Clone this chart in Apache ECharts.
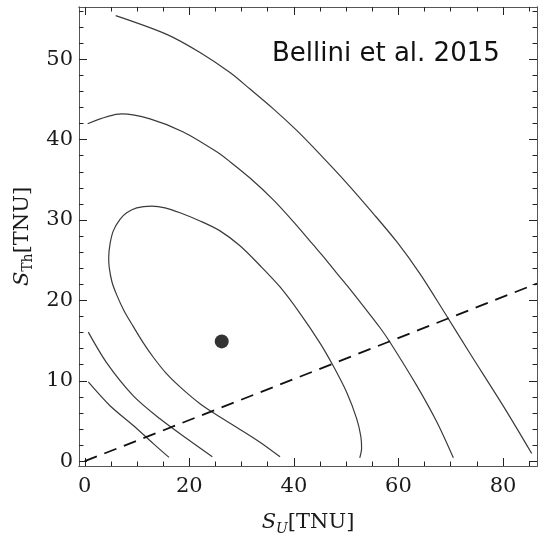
<!DOCTYPE html>
<html>
<head>
<meta charset="utf-8">
<script src="https://cdn.jsdelivr.net/npm/echarts@6/dist/echarts.min.js"></script>
<style>
  html, body { margin: 0; padding: 0; background: #fff; }
  #chart { width: 538px; height: 541px; }
</style>
</head>
<body>
<div id="chart"></div>
<script>
// ---- tick labels ----
const xMajorTicks = [0, 20, 40, 60, 80];
const xMinorTicks = [5, 10, 15, 25, 30, 35, 45, 50, 55, 65, 70, 75, 85];
const yMajorTicks = [0, 10, 20, 30, 40, 50];
const yMinorTicks = [2, 4, 6, 8, 12, 14, 16, 18, 22, 24, 26, 28, 32, 34, 36, 38, 42, 44, 46, 48, 52, 54, 56];

// ---- data: [S_U, S_Th] in TNU ----
const bestFit = [[26.2, 14.9]];

const contour1Sigma = [
  [37.35, 0.54], [33.52, 2.35], [29.69, 3.95], [25.87, 5.49], [22.04, 7.15],
  [18.22, 9.24], [15.54, 10.96], [13.11, 12.93], [11.14, 14.78], [9.29, 16.74],
  [7.51, 18.72], [6.11, 20.69], [5.21, 22.29], [4.68, 24.1], [4.58, 25.3],
  [4.83, 27.0], [5.46, 28.65], [6.74, 30.08], [8.02, 30.9], [9.94, 31.52],
  [12.81, 31.73], [15.35, 31.52], [18.22, 30.9], [22.05, 29.88], [25.87, 28.65],
  [29.69, 26.8], [33.52, 24.34], [37.35, 21.67], [41.17, 18.39], [45.0, 14.69],
  [47.54, 11.83], [50.11, 8.54], [52.02, 5.27], [52.8, 3.1], [52.95, 1.6],
  [52.6, 0.42]
];

const contour2SigmaUpper = [
  [0.56, 41.98], [7.07, 43.21], [12.48, 42.59], [18.85, 40.96], [25.24, 38.49],
  [27.78, 37.26], [31.61, 35.22], [36.07, 32.5], [39.89, 29.8], [43.72, 26.9],
  [45.63, 25.45], [48.19, 23.4], [50.11, 21.9], [53.28, 19.3], [56.48, 16.6],
  [58.39, 14.8], [63.5, 9.4], [67.32, 4.9], [70.5, 0.42]
];
const contour2SigmaLower = [
  [0.68, 16.05], [4.2, 12.23], [9.29, 8.13], [14.39, 5.27], [19.5, 2.81], [24.4, 0.54]
];

const contour3SigmaUpper = [
  [5.92, 55.43], [15.68, 53.1], [22.05, 50.84], [27.78, 48.34], [31.61, 46.29],
  [36.07, 43.83], [40.54, 41.15], [44.37, 38.6], [50.11, 34.6], [55.19, 30.8],
  [59.67, 27.3], [64.13, 23.3], [68.9, 18.4], [73.69, 13.4], [80.06, 6.85],
  [85.49, 0.96]
];
const contour3SigmaLower = [
  [0.68, 9.86], [4.83, 6.9], [9.29, 4.44], [13.11, 2.19], [16.12, 0.47]
];

const ratioLine = [[0, 0], [86.5, 22.1]];

// ---- chart ----
const SERIF = '"DejaVu Serif", "Liberation Serif", serif';
const frameColor = '#555';
const tickColor = '#222';
const X_MIN = -1.1, X_MAX = 86.5, Y_MIN = -0.6, Y_MAX = 56.5;

function makeAxis(dim, position, ticks, len, withLabel, extra) {
  const a = {
    type: 'value',
    position: position,
    min: dim === 'x' ? X_MIN : Y_MIN,
    max: dim === 'x' ? X_MAX : Y_MAX,
    axisLine: { show: true, onZero: false, lineStyle: { color: frameColor, width: 1 } },
    axisTick: { show: true, inside: true, length: len, customValues: ticks,
                lineStyle: { color: tickColor, width: 1 } },
    axisLabel: { show: withLabel, customValues: ticks, color: '#1a1a1a',
                 fontFamily: SERIF, fontSize: 21, margin: dim === 'x' ? 10 : 6 },
    splitLine: { show: false },
    minorTick: { show: false },
    silent: true
  };
  return Object.assign(a, extra || {});
}

const nameRich = {
  s: { fontFamily: SERIF, fontSize: 21, fontStyle: 'italic', color: '#1a1a1a', lineHeight: 26 },
  subi: { fontFamily: SERIF, fontSize: 14, fontStyle: 'italic', color: '#1a1a1a', lineHeight: 15, verticalAlign: 'bottom' },
  sub: { fontFamily: SERIF, fontSize: 14, color: '#1a1a1a', lineHeight: 15, verticalAlign: 'bottom' },
  n: { fontFamily: SERIF, fontSize: 21, color: '#1a1a1a', lineHeight: 26 }
};

const lineStyle = { color: '#3a3a3a', width: 1.2 };
function curve(data) {
  return {
    type: 'line', data: data, smooth: 0.3, showSymbol: false, symbol: 'none',
    lineStyle: lineStyle, silent: true, clip: true, z: 2
  };
}

const chart = echarts.init(document.getElementById('chart'), null, { renderer: 'canvas' });
chart.setOption({
  animation: false,
  backgroundColor: '#ffffff',
  grid: { left: 79, right: 1, top: 7, bottom: 70, containLabel: false },
  xAxis: [
    makeAxis('x', 'bottom', xMajorTicks, 8, true, {
      name: '{s|S}{subi|U}{n|[TNU]}',
      nameLocation: 'middle', nameGap: 44,
      nameTextStyle: { rich: nameRich }
    }),
    makeAxis('x', 'bottom', xMinorTicks, 4.5, false),
    makeAxis('x', 'top', xMajorTicks, 8, false),
    makeAxis('x', 'top', xMinorTicks, 4.5, false)
  ],
  yAxis: [
    makeAxis('y', 'left', yMajorTicks, 8, true, {
      name: '{s|S}{sub|Th}{n|[TNU]}',
      nameLocation: 'middle', nameGap: 43, nameRotate: 90,
      nameTextStyle: { rich: nameRich }
    }),
    makeAxis('y', 'left', yMinorTicks, 4.5, false),
    makeAxis('y', 'right', yMajorTicks, 8, false),
    makeAxis('y', 'right', yMinorTicks, 4.5, false)
  ],
  graphic: [
    {
      type: 'text', left: 272, top: 41, z: 10,
      style: { text: 'Bellini et al. 2015', font: '26px "DejaVu Sans", sans-serif', fill: '#111' }
    }
  ],
  series: [
    curve(contour1Sigma),
    curve(contour2SigmaUpper),
    curve(contour2SigmaLower),
    curve(contour3SigmaUpper),
    curve(contour3SigmaLower),
    {
      type: 'line', data: ratioLine, showSymbol: false, symbol: 'none', silent: true,
      lineStyle: { color: '#111', width: 1.8, type: [13, 8] }, z: 3
    },
    {
      type: 'scatter', data: bestFit, symbol: 'circle', symbolSize: 14,
      itemStyle: { color: '#000' }, silent: true, z: 4
    }
  ]
});
</script>
</body>
</html>
